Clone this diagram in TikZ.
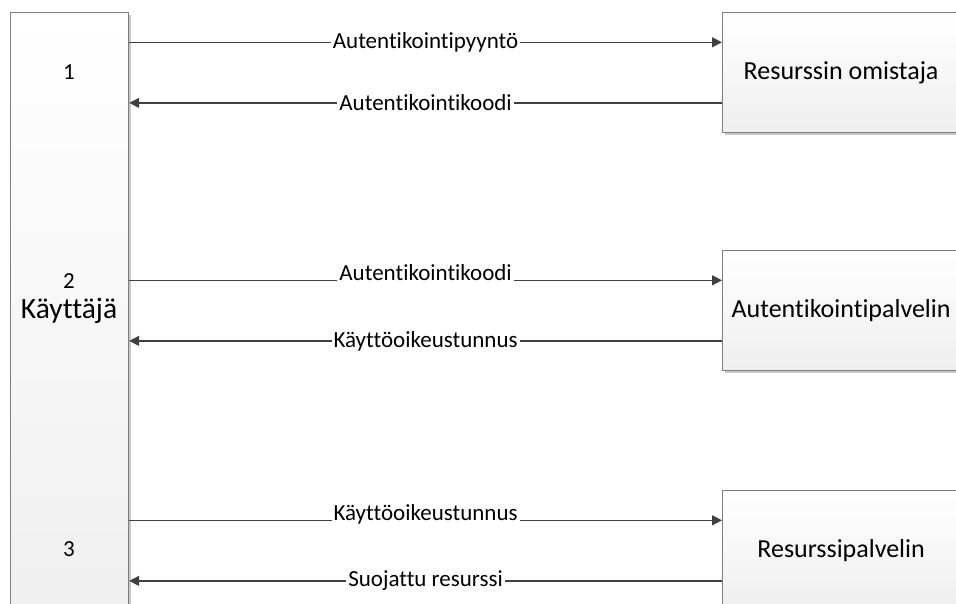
\documentclass[tikz,border=0pt]{standalone}
\usepackage{fontspec}
\setmainfont{Carlito}[Ligatures=NoCommon]
\usetikzlibrary{arrows.meta,shadows,calc}

\definecolor{edge}{HTML}{7F7F7F}
\definecolor{ink}{HTML}{404040}

\tikzset{
  party/.style={draw=edge, line width=1.2pt, rectangle,
    top color=white, bottom color=gray!13,
    drop shadow={shadow xshift=2.2pt, shadow yshift=-2.2pt, fill=black, opacity=0.22},
    font=\fontsize{26}{30}\selectfont, inner sep=0pt},
  flow/.style={draw=ink, line width=1.3pt, -{Triangle[length=10pt,width=10pt]}},
  msg/.style={fill=white, inner xsep=2pt, inner ysep=1.5pt, text=black,
    font=\fontsize{23}{26}\selectfont},
  stepnum/.style={font=\fontsize{23}{26}\selectfont, inner sep=0pt},
}

\begin{document}
\begin{tikzpicture}[x=1pt, y=-1pt]
  \path[use as bounding box, clip] (0,0) rectangle (956,603);

  % the user on the left, shared by all three exchanges
  \node[party, minimum width=118pt, minimum height=640pt, anchor=north west] (user) at (10,12) {};
  \node[stepnum] (n1) at (69,72) {1};
  \node[stepnum] (n2) at (69,281) {2};
  \node[stepnum, font=\fontsize{29.5}{32}\selectfont] (who) at (69,311) {Käyttäjä};
  \node[stepnum] (n3) at (69,549) {3};

  % the three counterparts
  \node[party, minimum width=237pt, minimum height=120pt, anchor=north west] (owner) at (722,12) {Resurssin omistaja};
  \node[party, minimum width=237pt, minimum height=120pt, anchor=north west] (auth) at (722,250) {Autentikointipalvelin};
  \node[party, minimum width=237pt, minimum height=120pt, anchor=north west] (res) at (722,490) {Resurssipalvelin};

  % request and reply points on each counterpart
  \foreach \b in {owner,auth,res}{
    \coordinate (\b-in)  at ($(\b.north west)!0.25!(\b.south west)$);
    \coordinate (\b-out) at ($(\b.north west)!0.75!(\b.south west)$);
  }

  % 1: authorisation request
  \draw[flow] (user.east |- owner-in) -- node[msg] {Autentikointipyyntö} (owner-in);
  \draw[flow] (owner-out) -- node[msg] {Autentikointikoodi} (user.east |- owner-out);

  % 2: code for token
  \draw[flow] (user.east |- auth-in) -- node[msg, anchor=base] {Autentikointikoodi} (auth-in);
  \draw[flow] (auth-out) -- node[msg] {Käyttöoikeustunnus} (user.east |- auth-out);

  % 3: token for resource
  \draw[flow] (user.east |- res-in) -- node[msg, anchor=base] {Käyttöoikeustunnus} (res-in);
  \draw[flow] (res-out) -- node[msg] {Suojattu resurssi} (user.east |- res-out);
\end{tikzpicture}
\end{document}
